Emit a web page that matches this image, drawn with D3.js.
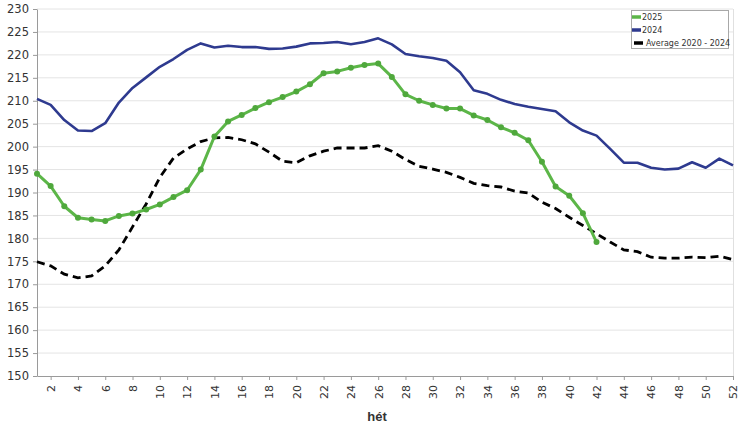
<!DOCTYPE html>
<html><head><meta charset="utf-8">
<script src="https://cdn.jsdelivr.net/npm/d3@7"></script>
<style>
html,body{margin:0;padding:0;background:#fff;}
svg{display:block;font-family:"DejaVu Sans",Verdana,sans-serif;}
</style></head>
<body><svg id="c" width="750" height="424"></svg>
<script>
const weeks = d3.range(1, 53);
const yTicks = d3.range(150, 231, 5);
const xTicks = d3.range(2, 53, 2);
const seriesNames = ["2025", "2024", "Average 2020 - 2024"];
const values2025 = [194.1,191.4,187.0,184.5,184.1,183.8,184.9,185.4,186.3,187.4,189.0,190.5,195.0,202.2,205.5,206.9,208.4,209.7,210.8,212.0,213.6,216.0,216.4,217.2,217.8,218.1,215.2,211.4,210.0,209.1,208.3,208.3,206.8,205.8,204.2,203.0,201.4,196.7,191.3,189.3,185.5,179.2];
const values2024 = [210.4,209.1,205.8,203.5,203.4,205.1,209.6,212.8,215.1,217.4,219.1,221.1,222.5,221.6,222.0,221.7,221.7,221.3,221.4,221.8,222.5,222.6,222.8,222.3,222.8,223.6,222.3,220.2,219.7,219.3,218.7,216.2,212.3,211.5,210.2,209.3,208.7,208.2,207.7,205.3,203.5,202.4,199.5,196.5,196.5,195.4,195.0,195.2,196.6,195.4,197.4,195.9];
const valuesAvg = [174.9,174.0,172.2,171.4,171.8,174.0,177.5,182.5,187.5,193.3,197.5,199.5,201.1,201.9,202.0,201.5,200.6,198.8,196.8,196.5,198.0,199.0,199.7,199.7,199.7,200.2,199.0,197.2,195.7,195.1,194.4,193.3,192.0,191.5,191.2,190.3,189.9,187.9,186.5,184.6,182.8,181.0,179.2,177.5,177.1,175.9,175.7,175.7,175.9,175.8,176.1,175.4];

const svg = d3.select("#c");
const x = d3.scaleLinear().domain([1, 52]).range([37, 733]);
const y = d3.scaleLinear().domain([150, 230]).range([376, 9]);

// gridlines
svg.append("g").selectAll("line").data(yTicks.filter(d => d > 150)).join("line")
  .attr("x1", 37).attr("x2", 733).attr("y1", d => y(d)).attr("y2", d => y(d))
  .attr("stroke", "#e4e4e4").attr("stroke-width", 1);
// right frame
svg.append("line").attr("x1", 733.5).attr("x2", 733.5).attr("y1", y(230)).attr("y2", y(150))
  .attr("stroke", "#e0e0e0");

// axes
const yAxis = d3.axisLeft(y).tickValues(yTicks).tickSize(4).tickPadding(4).tickSizeOuter(0);
const gy = svg.append("g").attr("transform", "translate(37,0)").call(yAxis);
gy.select(".domain").attr("stroke", "#9a9a9a");
gy.selectAll(".tick line").attr("stroke", "#9a9a9a");
gy.selectAll("text").attr("font-size", "11.5px").attr("fill", "#333").attr("font-family", "DejaVu Sans, sans-serif");

const xAxis = d3.axisBottom(x).tickValues(xTicks).tickSize(4).tickSizeOuter(0).tickFormat(d3.format("d"));
const gx = svg.append("g").attr("transform", "translate(0,376)").call(xAxis);
gx.select(".domain").attr("stroke", "#9a9a9a");
gx.selectAll(".tick line").attr("stroke", "#9a9a9a");
gx.selectAll("text")
  .attr("font-size", "11px").attr("fill", "#333").attr("font-family", "DejaVu Sans, sans-serif")
  .attr("transform", "rotate(-90)")
  .attr("text-anchor", "end").attr("x", -9).attr("y", 0).attr("dy", "0.35em");

svg.append("text").attr("x", 377).attr("y", 421).attr("text-anchor", "middle")
  .attr("font-family", "Liberation Sans, Arial, sans-serif")
  .attr("font-size", "13px").attr("fill", "#333").attr("font-weight", "bold").text("hét");

// lines
const line = d3.line().x((d, i) => x(weeks[i])).y(d => y(d));
svg.append("path").datum(values2024).attr("d", line).attr("fill", "none")
  .attr("stroke", "#2e3a8f").attr("stroke-width", 2.6).attr("stroke-linejoin", "round");
svg.append("path").datum(valuesAvg).attr("d", line).attr("fill", "none")
  .attr("stroke", "#000").attr("stroke-width", 2.8).attr("stroke-dasharray", "8,5");
svg.append("path").datum(values2025).attr("d", line).attr("fill", "none")
  .attr("stroke", "#5cb648").attr("stroke-width", 3).attr("stroke-linejoin", "round");
svg.append("g").selectAll("circle").data(values2025).join("circle")
  .attr("cx", (d, i) => x(weeks[i])).attr("cy", d => y(d)).attr("r", 3)
  .attr("fill", "#4fa83c");

// legend
const lg = svg.append("g");
lg.append("rect").attr("x", 631.5).attr("y", 10.5).attr("width", 97).attr("height", 38)
  .attr("fill", "#fff").attr("stroke", "#a8a8a8");
const colors = ["#5cb648", "#2e3a8f", "#000"];
seriesNames.forEach((n, i) => {
  const yy = 17 + i * 13;
  lg.append("line").attr("x1", i === 2 ? 634 : 632).attr("x2", i === 2 ? 643 : 641)
    .attr("y1", yy).attr("y2", yy).attr("stroke", colors[i]).attr("stroke-width", 3.5);
  lg.append("text").attr("x", i === 2 ? 646 : 642).attr("y", yy).attr("dy", "0.35em")
    .attr("font-size", "8px").attr("fill", "#333").text(n);
});
</script></body></html>
